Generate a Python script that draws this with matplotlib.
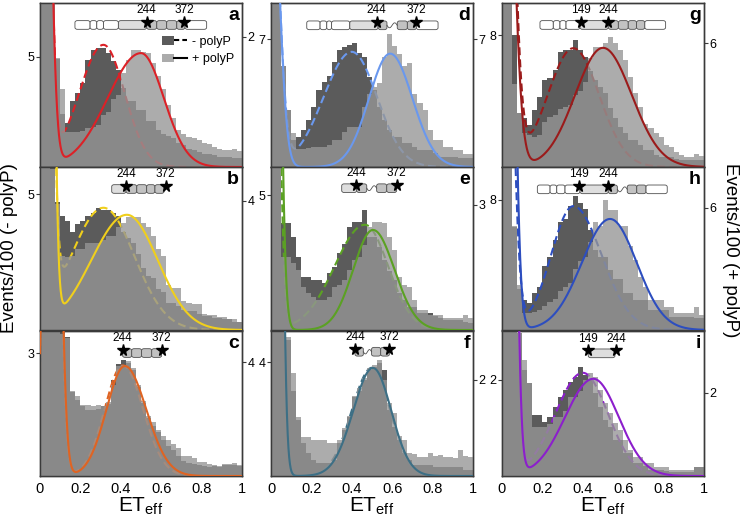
import numpy as np
import matplotlib
matplotlib.use('Agg')
import matplotlib.pyplot as plt
from matplotlib.patches import FancyBboxPatch, Patch
from matplotlib.lines import Line2D
from matplotlib.legend_handler import HandlerTuple

plt.rcParams['font.family'] = ['Liberation Sans', 'DejaVu Sans']
plt.rcParams['mathtext.fontset'] = 'custom'
plt.rcParams['mathtext.rm'] = 'Liberation Sans'
plt.rcParams['mathtext.it'] = 'Liberation Sans:italic'

# ---------------- data: histograms (40 bins of 0.025 in ET_eff) ----------------
bin_edges = np.linspace(0, 1, 41)

hist_minus_a = [20, 14, 9, 4.9, 2.4, 2.0, 3.0, 3.35, 3.8, 4.85, 5.3, 5.4, 5.4, 5.2, 4.8, 4.4, 3.6, 3.0, 3.0, 2.6,
                2.6, 2.1, 2.1, 1.7, 1.5, 1.4, 1.3, 1.1, 1.0, 0.8, 0.75, 0.7, 0.6, 0.6, 0.55, 0.45, 0.45, 0.45, 0.4, 0.4]
hist_plus_a = [8, 5, 3, 1.68, 1.2, 0.54, 0.54, 0.54, 0.55, 0.6, 0.62, 0.65, 0.8, 0.85, 1.05, 1.1, 1.45, 1.65, 1.8, 1.8,
               1.77, 1.75, 1.6, 1.4, 1.2, 0.95, 0.75, 0.57, 0.5, 0.46, 0.45, 0.42, 0.37, 0.35, 0.3, 0.28, 0.26, 0.26, 0.28, 0.25]

hist_minus_b = [20, 14, 9, 4.7, 4.2, 4.0, 3.6, 3.9, 4.0, 4.2, 4.3, 4.5, 4.4, 4.4, 4.3, 4.2, 3.6, 3.4, 3.2, 2.8,
                2.3, 2.0, 1.9, 1.5, 1.4, 1.0, 1.0, 0.9, 0.75, 0.7, 0.7, 0.6, 0.5, 0.5, 0.45, 0.45, 0.4, 0.4, 0.3, 0.3]
hist_plus_b = [8, 6, 5, 3.9, 2.3, 2.27, 2.3, 2.5, 2.5, 2.7, 2.7, 2.7, 2.8, 2.9, 2.9, 3.2, 3.3, 3.5, 3.5, 3.5,
               3.3, 3.2, 2.9, 2.5, 2.3, 1.4, 1.3, 1.3, 0.9, 0.85, 0.8, 0.8, 0.5, 0.45, 0.45, 0.4, 0.4, 0.35, 0.35, 0.25]

hist_minus_c = [6, 6, 5.5, 4.5, 3.6, 3.4, 2.05, 1.85, 1.7, 1.6, 1.6, 1.63, 1.7, 1.75, 2.34, 2.73, 2.83, 2.76, 2.6, 2.17,
                1.78, 1.41, 1.22, 1.07, 0.88, 0.73, 0.63, 0.49, 0.37, 0.32, 0.29, 0.27, 0.24, 0.22, 0.24, 0.22, 0.27, 0.27, 0.27, 0.24]
hist_plus_c = [8, 8, 7, 6, 5.0, 4.85, 3.0, 2.8, 2.5, 2.5, 2.45, 2.5, 2.45, 2.6, 3.2, 3.85, 3.9, 4.05, 3.8, 3.2,
               2.65, 2.1, 1.9, 1.6, 1.4, 1.26, 1.12, 1.0, 0.7, 0.7, 0.63, 0.5, 0.5, 0.42, 0.39, 0.35, 0.42, 0.42, 0.46, 0.39]

hist_minus_d = [20, 14, 5.5, 3.1, 1.5, 1.64, 2.0, 2.57, 3.28, 4.2, 4.64, 5.0, 5.74, 6.4, 6.56, 6.67, 6.78, 6.23, 6.0, 4.9,
                4.2, 3.28, 2.57, 2.0, 1.64, 1.64, 1.3, 1.3, 1.1, 0.93, 0.93, 0.93, 0.77, 0.55, 0.55, 0.55, 0.55, 0.5, 0.5, 0.5]
hist_plus_d = [20, 12, 5.5, 3.1, 1.85, 1.0, 1.0, 1.05, 1.1, 1.1, 1.1, 1.2, 1.5, 1.5, 1.9, 2.2, 2.2, 2.2, 3.3, 4.0,
               4.4, 4.6, 6.0, 7.3, 6.6, 6.2, 5.5, 5.7, 4.0, 3.5, 3.1, 2.0, 1.5, 1.5, 1.1, 1.1, 0.95, 0.95, 0.7, 0.7]

hist_minus_e = [20, 14, 3.96, 3.96, 3.44, 2.7, 1.96, 1.96, 1.85, 1.85, 1.74, 2.1, 2.33, 2.85, 3.2, 3.8, 4.0, 4.0, 4.44, 3.44,
                3.44, 3.07, 2.6, 2.2, 1.85, 1.37, 1.1, 0.85, 0.85, 0.63, 0.63, 0.63, 0.52, 0.44, 0.37, 0.37, 0.37, 0.37, 0.3, 0.26]
hist_plus_e = [12, 8, 1.75, 1.75, 1.6, 1.44, 1.03, 0.89, 0.8, 0.72, 0.72, 0.8, 1.03, 1.08, 1.2, 1.44, 1.68, 1.75, 2.04, 2.47,
               2.6, 2.6, 2.57, 2.23, 1.92, 1.27, 1.08, 1.03, 0.72, 0.48, 0.48, 0.36, 0.36, 0.36, 0.29, 0.29, 0.29, 0.29, 0.36, 0.29]

hist_minus_f = [8, 8, 7, 4.77, 3.0, 1.96, 1.16, 0.8, 0.56, 0.46, 0.46, 0.46, 0.56, 1.16, 1.6, 2.07, 2.77, 3.0, 3.37, 3.72,
                3.82, 3.96, 3.72, 2.3, 1.72, 1.26, 0.8, 0.56, 0.39, 0.39, 0.39, 0.39, 0.32, 0.32, 0.32, 0.32, 0.32, 0.32, 0.21, 0.21]
hist_plus_f = [5, 5, 4.5, 2.9, 2.15, 1.23, 0.81, 0.81, 0.75, 0.75, 0.75, 0.69, 0.69, 0.75, 1.0, 1.25, 1.67, 1.83, 2.04, 2.25,
               2.31, 2.42, 2.0, 1.52, 1.31, 0.83, 0.75, 0.48, 0.46, 0.4, 0.4, 0.48, 0.42, 0.44, 0.4, 0.4, 0.38, 0.54, 0.42, 0.4]

hist_minus_g = [20, 15, 8, 3.3, 3.0, 2.55, 3.45, 4.24, 5.27, 5.4, 5.9, 7.0, 7.1, 7.1, 7.7, 7.1, 6.67, 5.8, 5.27, 4.85,
                4.5, 3.6, 3.0, 2.4, 2.06, 1.64, 1.64, 1.33, 1.03, 1.03, 0.73, 0.6, 0.6, 0.6, 0.5, 0.42, 0.42, 0.42, 0.42, 0.42]
hist_plus_g = [12, 9, 4.0, 2.6, 1.64, 1.55, 1.45, 1.55, 2.2, 2.4, 2.5, 2.8, 2.9, 3.0, 3.5, 3.7, 4.1, 5.3, 5.8, 5.8,
               6.0, 6.3, 6.0, 5.65, 5.2, 4.35, 3.6, 2.9, 2.1, 1.9, 1.64, 1.45, 1.06, 0.97, 0.72, 0.58, 0.48, 0.48, 0.63, 0.53]

hist_minus_h = [20, 15, 6.3, 2.5, 1.85, 1.66, 2.28, 2.65, 3.9, 4.5, 5.5, 6.6, 6.8, 7.6, 8.2, 7.8, 7.4, 6.15, 4.9, 4.5,
                4.5, 3.7, 3.1, 3.1, 2.3, 2.3, 1.85, 1.85, 1.85, 1.23, 1.23, 1.23, 1.23, 0.8, 0.8, 0.8, 0.8, 0.8, 0.74, 0.74]
hist_plus_h = [12, 8, 5.1, 2.2, 0.84, 0.84, 0.9, 1.0, 1.2, 1.35, 1.5, 1.9, 2.1, 2.3, 3.0, 3.4, 3.6, 4.3, 5.3, 5.1,
               6.4, 5.9, 5.9, 5.1, 5.1, 4.1, 3.45, 2.6, 2.1, 1.48, 1.48, 1.48, 1.13, 1.13, 0.84, 0.84, 0.84, 0.84, 1.13, 0.74]

hist_minus_i = [8, 6, 5, 2.98, 2.2, 1.94, 1.27, 1.27, 1.12, 1.23, 1.44, 1.65, 1.8, 1.96, 2.06, 2.27, 2.1, 2.0, 1.73, 1.44,
                1.17, 1.02, 0.75, 0.75, 0.48, 0.48, 0.27, 0.27, 0.2, 0.125, 0.125, 0.125, 0.1, 0.08, 0.08, 0.08, 0.08, 0.08, 0.19, 0.19]
hist_plus_i = [8, 6, 5, 3.45, 2.8, 2.24, 1.18, 1.18, 1.18, 1.25, 1.42, 1.42, 1.57, 1.9, 1.9, 2.05, 2.31, 2.48, 2.39, 2.07,
               1.76, 1.52, 1.28, 1.1, 0.87, 0.63, 0.46, 0.46, 0.31, 0.31, 0.22, 0.22, 0.22, 0.14, 0.14, 0.14, 0.14, 0.14, 0.22, 0.22]

# ---------------- fit parameters ----------------
# [donor-only amplitude, donor centre, donor width, FRET amplitude, FRET centre, left width, right width]
fit_minus_a = [40, 0.0, 0.035, 5.55, 0.314, 0.12, 0.105]
fit_plus_a = [15, 0.0, 0.035, 1.75, 0.50, 0.165, 0.113]
fit_minus_b = [60, 0.0, 0.035, 4.5, 0.314, 0.16, 0.153]
fit_plus_b = [200, 0.0, 0.03, 3.57, 0.43, 0.176, 0.153]
fit_minus_c = [15, 0.06, 0.032, 2.7, 0.41, 0.09, 0.10]
fit_plus_c = [25, 0.06, 0.032, 3.86, 0.42, 0.091, 0.106]
fit_minus_d = [17, 0.0, 0.039, 6.3, 0.40, 0.14, 0.125]
fit_plus_d = [17.5, 0.0, 0.039, 6.2, 0.59, 0.105, 0.11]
fit_minus_e = [25, 0.0, 0.03, 3.9, 0.465, 0.15, 0.115]
fit_plus_e = [29, 0.0, 0.03, 2.4, 0.505, 0.098, 0.106]
fit_minus_f = [70, 0.0, 0.03, 3.8, 0.50, 0.10, 0.09]
fit_plus_f = [68, 0.0, 0.028, 2.25, 0.505, 0.098, 0.09]
fit_minus_g = [40, 0.0, 0.045, 7.2, 0.353, 0.127, 0.128]
fit_plus_g = [27, 0.0, 0.046, 5.77, 0.50, 0.138, 0.142]
fit_minus_h = [40, 0.0, 0.04, 7.6, 0.353, 0.11, 0.14]
fit_plus_h = [80, 0.0, 0.036, 5.45, 0.535, 0.14, 0.132]
fit_minus_i = [60, 0.0, 0.034, 2.15, 0.40, 0.135, 0.124]
fit_plus_i = [81, 0.0, 0.034, 2.34, 0.452, 0.14, 0.126]

x_tick_values = [0, 0.2, 0.4, 0.6, 0.8, 1]
x_tick_labels = ['0', '0.2', '0.4', '0.6', '0.8', '1']

# ---------------- layout / style ----------------
W, H = 744, 519
col_left = [40, 271, 502]
col_w = 202
row_top = [3, 167, 331]
row_bot = [167, 330, 476]

DARK = '#5b5b5b'
LIGHT = '#969696'
ALPHA = 0.79
SPINE = '#3a3a3a'
WH, LG, MG = 'white', '#dedede', '#c2c2c2'

panels = {
    'a': dict(col=0, row=0, minus=hist_minus_a, plus=hist_plus_a, fm=fit_minus_a, fp=fit_plus_a,
              color='#dc2127', lim=(7.45, 2.52), ticks=(5, 2)),
    'b': dict(col=0, row=1, minus=hist_minus_b, plus=hist_plus_b, fm=fit_minus_b, fp=fit_plus_b,
              color='#f0cf1c', lim=(6.0, 5.05), ticks=(5, 4)),
    'c': dict(col=0, row=2, minus=hist_minus_c, plus=hist_plus_c, fm=fit_minus_c, fp=fit_plus_c,
              color='#df6423', lim=(3.54, 5.09), ticks=(3, 4)),
    'd': dict(col=1, row=0, minus=hist_minus_d, plus=hist_plus_d, fm=fit_minus_d, fp=fit_plus_d,
              color='#6a98ee', lim=(8.97, 8.97), ticks=(7, 7)),
    'e': dict(col=1, row=1, minus=hist_minus_e, plus=hist_plus_e, fm=fit_minus_e, fp=fit_plus_e,
              color='#5ba123', lim=(6.04, 3.91), ticks=(5, 3)),
    'f': dict(col=1, row=2, minus=hist_minus_f, plus=hist_plus_f, fm=fit_minus_f, fp=fit_plus_f,
              color='#3d6f85', lim=(5.09, 3.02), ticks=(4, 2)),
    'g': dict(col=2, row=0, minus=hist_minus_g, plus=hist_plus_g, fm=fit_minus_g, fp=fit_plus_g,
              color='#9b1b1b', lim=(9.94, 7.94), ticks=(8, 6)),
    'h': dict(col=2, row=1, minus=hist_minus_h, plus=hist_plus_h, fm=fit_minus_h, fp=fit_plus_h,
              color='#2d4ebf', lim=(10.0, 8.0), ticks=(8, 6)),
    'i': dict(col=2, row=2, minus=hist_minus_i, plus=hist_plus_i, fm=fit_minus_i, fp=fit_plus_i,
              color='#8c1fcc', lim=(3.02, 3.49), ticks=(2, 2)),
}

# protein construct schematics (axes-fraction geometry, decoration only)
schematics = {
    'a': dict(y=0.866, h=0.053,
              segs=[(0.173, 0.248, WH), (0.248, 0.281, WH), (0.281, 0.314, WH), (0.314, 0.388, WH),
                    (0.388, 0.528, LG), (0.528, 0.578, MG), (0.578, 0.627, MG), (0.627, 0.677, MG),
                    (0.677, 0.718, MG), (0.718, 0.825, WH)],
              wig=[], stars=[(0.528, '244'), (0.715, '372')]),
    'd': dict(y=0.864, h=0.053,
              segs=[(0.177, 0.243, WH), (0.243, 0.276, WH), (0.276, 0.30, WH), (0.30, 0.39, WH),
                    (0.39, 0.53, LG), (0.53, 0.574, MG), (0.625, 0.675, MG), (0.675, 0.72, MG),
                    (0.72, 0.827, WH)],
              wig=[(0.574, 0.625)], stars=[(0.523, '244'), (0.72, '372')]),
    'g': dict(y=0.866, h=0.053,
              segs=[(0.188, 0.254, WH), (0.254, 0.287, WH), (0.287, 0.317, WH), (0.317, 0.386, WH),
                    (0.386, 0.526, LG), (0.526, 0.576, MG), (0.576, 0.625, MG), (0.625, 0.666, MG),
                    (0.666, 0.707, MG), (0.707, 0.81, WH)],
              wig=[], stars=[(0.39, '149'), (0.526, '244')]),
    'b': dict(y=0.865, h=0.053,
              segs=[(0.355, 0.426, LG), (0.426, 0.479, MG), (0.479, 0.528, MG), (0.528, 0.569, MG),
                    (0.569, 0.614, MG)],
              wig=[], stars=[(0.426, '244'), (0.622, '372')]),
    'e': dict(y=0.87, h=0.053,
              segs=[(0.35, 0.424, LG), (0.424, 0.474, MG), (0.523, 0.573, MG), (0.573, 0.622, MG)],
              wig=[(0.474, 0.523)], stars=[(0.42, '244'), (0.622, '372')]),
    'h': dict(y=0.863, h=0.053,
              segs=[(0.175, 0.238, WH), (0.238, 0.271, WH), (0.271, 0.312, WH), (0.312, 0.386, WH),
                    (0.386, 0.526, LG), (0.526, 0.571, MG), (0.62, 0.667, MG), (0.667, 0.713, MG),
                    (0.713, 0.818, WH)],
              wig=[(0.571, 0.62)], stars=[(0.38, '149'), (0.526, '244')]),
    'c': dict(y=0.848, h=0.06,
              segs=[(0.409, 0.454, MG), (0.454, 0.503, MG), (0.503, 0.553, MG), (0.553, 0.602, MG)],
              wig=[], stars=[(0.409, '244'), (0.602, '372')]),
    'f': dict(y=0.857, h=0.06,
              segs=[(0.416, 0.457, MG), (0.498, 0.543, MG), (0.543, 0.586, MG)],
              wig=[(0.457, 0.498)], stars=[(0.416, '244'), (0.586, '372')]),
    'i': dict(y=0.846, h=0.06,
              segs=[(0.427, 0.559, LG)],
              wig=[], stars=[(0.427, '149'), (0.564, '244')]),
}


def fit_curve(p, x):
    a0, c0, s0, a1, c1, sl, sr = p
    s = np.where(x < c1, sl, sr)
    return a0 * np.exp(-(x - c0) ** 2 / (2 * s0 ** 2)) + a1 * np.exp(-(x - c1) ** 2 / (2 * s ** 2))


def draw_schematic(ax, spec):
    yc, hh = spec['y'], spec['h']
    for x0, x1, fc in spec['segs']:
        ax.add_patch(FancyBboxPatch((x0, yc - hh / 2), x1 - x0, hh,
                                    boxstyle='round,pad=0,rounding_size=0.012',
                                    transform=ax.transAxes, fc=fc, ec='#505050', lw=0.6,
                                    zorder=10, clip_on=False))
    for x0, x1 in spec['wig']:
        t = np.linspace(0, 1, 30)
        ax.plot(x0 + (x1 - x0) * t, yc - 0.015 * np.sin(2 * np.pi * t), color='#505050', lw=0.6,
                transform=ax.transAxes, zorder=10, clip_on=False)
    for xs, lab in spec['stars']:
        ax.plot([xs], [yc + 0.02], marker='*', ms=8.5, color='black', mec='black',
                transform=ax.transAxes, zorder=12, clip_on=False, ls='none')
        ax.annotate(lab, (xs, yc + 0.02), xycoords='axes fraction', xytext=(0, 8.5),
                    textcoords='offset points', ha='center', va='center', fontsize=8.5, zorder=12)


fig = plt.figure(figsize=(W / 100, H / 100), dpi=100)
xf = np.linspace(0, 1, 801)

for key, p in panels.items():
    c, r = p['col'], p['row']
    rect = [col_left[c] / W, 1 - row_bot[r] / H, col_w / W, (row_bot[r] - row_top[r]) / H]
    ax = fig.add_axes(rect)
    ax.stairs(p['minus'], bin_edges, fill=True, color=DARK, lw=0, zorder=1)
    ax.plot(xf, fit_curve(p['fm'], xf), color=p['color'], lw=1.5, ls=(0, (3.8, 2.0)), zorder=2)
    ax.set_xlim(0, 1)
    ax.set_ylim(0, p['lim'][0])
    ax.set_yticks([p['ticks'][0]])
    ax.tick_params(axis='y', length=3, width=0.8, labelsize=9, pad=1, color=SPINE)
    ax.set_xticks(x_tick_values)
    if r == 2:
        ax.set_xticklabels(x_tick_labels)
        ax.tick_params(axis='x', length=0, labelsize=10.5, pad=4)
        ax.set_xlabel(r'ET$_{\mathregular{eff}}$', fontsize=15, labelpad=0)
    else:
        ax.set_xticklabels([])
        ax.tick_params(axis='x', length=0)

    ax2 = ax.twinx()
    ax2.stairs(p['plus'], bin_edges, fill=True, color=LIGHT, alpha=ALPHA, lw=0, zorder=1)
    ax2.plot(xf, fit_curve(p['fp'], xf), color=p['color'], lw=1.5, zorder=3)
    ax2.set_ylim(0, p['lim'][1])
    ax2.set_yticks([p['ticks'][1]])
    ax2.tick_params(axis='y', length=3, width=0.8, labelsize=9, pad=1, color=SPINE)
    for a in (ax, ax2):
        for s in a.spines.values():
            s.set_color(SPINE)
            s.set_linewidth(1.0)

    draw_schematic(ax2, schematics[key])
    ax2.text(0.985, 0.975, key, transform=ax2.transAxes, ha='right', va='top',
             fontsize=14, fontweight='bold', zorder=12)

    if key == 'a':
        h1 = (Patch(facecolor=DARK, edgecolor='none'), Line2D([], [], color='black', lw=1.5, ls=(0, (2.5, 1.5))))
        h2 = (Patch(facecolor='#ababab', edgecolor='none'), Line2D([], [], color='black', lw=1.5))
        ax2.legend([h1, h2], ['- polyP', '+ polyP'], handler_map={tuple: HandlerTuple(ndivide=None)},
                   loc='upper right', bbox_to_anchor=(0.96, 0.80), frameon=False, fontsize=9,
                   borderpad=0, borderaxespad=0, handlelength=2.0, handletextpad=0.4, labelspacing=0.45)

fig.text(10 / W, 1 - 248 / H, 'Events/100 (- polyP)', rotation=90, ha='center', va='center', fontsize=13.5)
fig.text(731 / W, 1 - 250 / H, 'Events/100 (+ polyP)', rotation=270, ha='center', va='center', fontsize=13.5)

fig.savefig('out.png', dpi=100)
